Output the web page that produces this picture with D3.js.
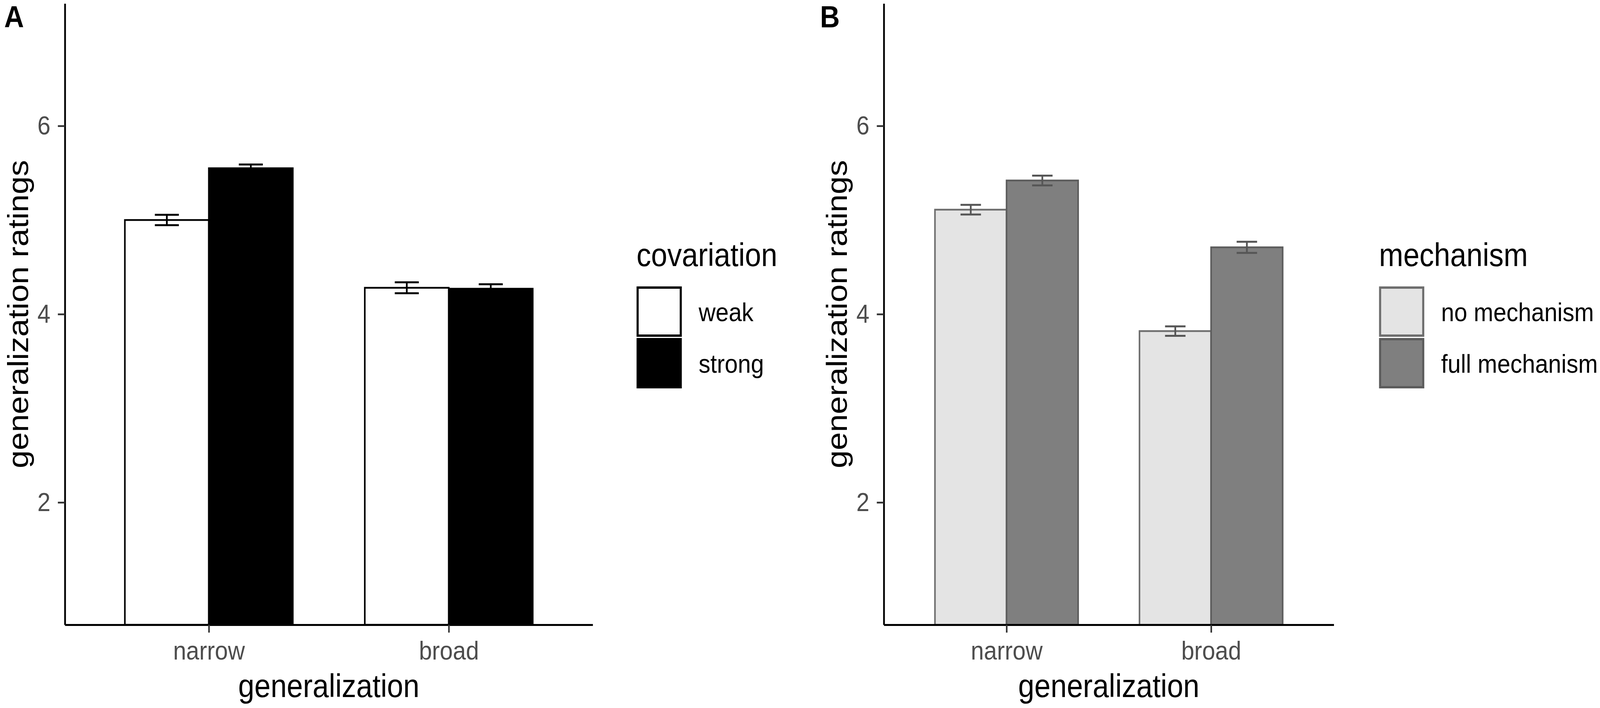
<!DOCTYPE html>
<html>
<head>
<meta charset="utf-8">
<script src="https://cdn.jsdelivr.net/npm/d3@7/dist/d3.min.js"></script>
<style>
    html, body { margin: 0; padding: 0; width: 100%; height: 100%; overflow: hidden; background: #fff; }
    .chart-svg { width: 100vw; height: 100vh; }
    .chart-svg svg { display: block; }
    text { font-family: "Liberation Sans", Arial, Helvetica, sans-serif; }
</style>
</head>
<body>
<div class="chart-svg"></div>
<script>
// categories and tick labels
var generalizationLevels = ['narrow', 'broad'];
var covariationLevels = ['weak', 'strong'];
var mechanismLevels = ['no mechanism', 'full mechanism'];
var yTicks = [2, 4, 6];

// panel A: covariation (means and standard errors, narrow / broad)
var weakMeans = [5.00, 4.28];
var weakErrors = [0.055, 0.058];
var strongMeans = [5.55, 4.27];
var strongErrors = [0.040, 0.048];

// panel B: mechanism
var noMechanismMeans = [5.11, 3.82];
var noMechanismErrors = [0.051, 0.050];
var fullMechanismMeans = [5.42, 4.71];
var fullMechanismErrors = [0.052, 0.059];

window.onload = function(){
    var svgWidth = 4562;
    var svgHeight = 1812;

    // drawn in a fixed 4562x1812 coordinate system, stretched to the window
    var svg = d3.select(".chart-svg")
            .append("svg")
            .attr("width", "100%")
            .attr("height", "100%")
            .attr("viewBox", "0 0 " + svgWidth + " " + svgHeight)
            .attr("preserveAspectRatio", "none");

    svg.append("rect")
        .attr("width", svgWidth)
        .attr("height", svgHeight)
        .attr("fill", "#fff");

    function buildRows(levels, meansList, errorsList){
        var rows = [];
        generalizationLevels.forEach(function(g, i){
            levels.forEach(function(level, j){
                rows.push({group: g, level: level, mean: meansList[j][i], se: errorsList[j][i]});
            });
        });
        return rows;
    };

    function drawPanel(opts){
        var panel = svg.append("g").attr("class", "panel");

        var yScale = d3.scaleLinear()
            .domain([0.7, 7.3])
            .range([opts.bottom, opts.top]);

        var xScale = d3.scalePoint()
            .domain(generalizationLevels)
            .range([opts.left, opts.right])
            .padding(0.6);

        var step = xScale.step();
        var dodge = d3.scaleBand()
            .domain(opts.levels)
            .range([-0.35 * step, 0.35 * step])
            .paddingInner(0);

        var fill = d3.scaleOrdinal().domain(opts.levels).range(opts.fills);
        var stroke = d3.scaleOrdinal().domain(opts.levels).range(opts.strokes);

        var rows = buildRows(opts.levels, opts.means, opts.errors);

        panel.selectAll("rect.bar")
            .data(rows)
            .enter()
            .append("rect")
            .attr("class", "bar")
            .attr("x", function(d){ return xScale(d.group) + dodge(d.level); })
            .attr("width", dodge.bandwidth())
            .attr("y", function(d){ return yScale(d.mean); })
            .attr("height", function(d){ return yScale(0.7) - yScale(d.mean); })
            .attr("fill", function(d){ return fill(d.level); })
            .attr("stroke", function(d){ return stroke(d.level); })
            .attr("stroke-width", 4.5);

        // error bars
        var capHalf = 0.05 * step;
        var err = panel.selectAll("g.err")
            .data(rows)
            .enter()
            .append("g")
            .attr("class", "err")
            .attr("stroke", opts.errorColor)
            .attr("stroke-width", 5)
            .attr("fill", "none");

        function cx(d){ return xScale(d.group) + dodge(d.level) + dodge.bandwidth() / 2; };

        err.append("line")
            .attr("x1", cx).attr("x2", cx)
            .attr("y1", function(d){ return yScale(d.mean + d.se); })
            .attr("y2", function(d){ return yScale(d.mean - d.se); });
        err.append("line")
            .attr("x1", function(d){ return cx(d) - capHalf; })
            .attr("x2", function(d){ return cx(d) + capHalf; })
            .attr("y1", function(d){ return yScale(d.mean + d.se); })
            .attr("y2", function(d){ return yScale(d.mean + d.se); });
        err.append("line")
            .attr("x1", function(d){ return cx(d) - capHalf; })
            .attr("x2", function(d){ return cx(d) + capHalf; })
            .attr("y1", function(d){ return yScale(d.mean - d.se); })
            .attr("y2", function(d){ return yScale(d.mean - d.se); });

        // axes
        var yAxis = d3.axisLeft(yScale).tickValues(yTicks).tickFormat(d3.format("d"))
            .tickSize(20).tickSizeOuter(0).tickPadding(21);
        var xAxis = d3.axisBottom(xScale).tickSize(20).tickSizeOuter(0).tickPadding(21);

        var gy = panel.append("g")
            .attr("transform", "translate(" + opts.left + ",0)")
            .call(yAxis)
            .attr("class", "axis");
        var gx = panel.append("g")
            .attr("transform", "translate(0," + opts.bottom + ")")
            .call(xAxis)
            .attr("class", "axis");

        [gx, gy].forEach(function(g){
            g.select(".domain").attr("stroke", "#000").attr("stroke-width", 5);
            g.selectAll(".tick line").attr("stroke", "#333").attr("stroke-width", 4.5);
            g.selectAll(".tick text")
                .attr("fill", "#4d4d4d")
                .style("font-size", "67px")
                .style("font-family", "'Liberation Sans', Arial, sans-serif");
        });

        // axis titles
        panel.append("text")
            .attr("x", (opts.left + opts.right) / 2)
            .attr("y", 1784)
            .attr("text-anchor", "middle")
            .style("font-size", "83px")
            .attr("fill", "#000")
            .text("generalization");

        panel.append("text")
            .attr("transform", "translate(" + (opts.left - 105) + "," + ((opts.top + opts.bottom) / 2) + ") rotate(-90)")
            .attr("text-anchor", "middle")
            .style("font-size", "83px")
            .attr("fill", "#000")
            .text("generalization ratings");

        // panel letter
        panel.append("text")
            .attr("x", opts.labelX)
            .attr("y", 70)
            .style("font-size", "78px")
            .style("font-weight", "bold")
            .attr("fill", "#000")
            .text(opts.label);

        // legend
        var legend = panel.append("g")
            .attr("transform", "translate(" + opts.legendX + ",0)");

        legend.append("text")
            .attr("x", 0)
            .attr("y", 681)
            .style("font-size", "83px")
            .attr("fill", "#000")
            .text(opts.legendTitle);

        var keys = legend.selectAll("g.key")
            .data(opts.levels)
            .enter()
            .append("g")
            .attr("class", "key")
            .attr("transform", function(d, i){ return "translate(0," + (733 + i * 132) + ")"; });

        keys.append("rect")
            .attr("x", 3).attr("y", 3)
            .attr("width", 123).attr("height", 123)
            .attr("fill", function(d){ return fill(d); })
            .attr("stroke", function(d){ return stroke(d); })
            .attr("stroke-width", 6);

        keys.append("text")
            .attr("x", 177)
            .attr("y", 89)
            .style("font-size", "67px")
            .attr("fill", "#000")
            .text(function(d){ return d; });
    };

    drawPanel({
        label: 'A', labelX: 12,
        left: 185, right: 1690, top: 9, bottom: 1599,
        levels: covariationLevels,
        means: [weakMeans, strongMeans],
        errors: [weakErrors, strongErrors],
        fills: ['#ffffff', '#000000'],
        strokes: ['#000000', '#000000'],
        errorColor: '#000000',
        legendTitle: 'covariation', legendX: 1815
    });

    drawPanel({
        label: 'B', labelX: 2338,
        left: 2520, right: 3803, top: 9, bottom: 1599,
        levels: mechanismLevels,
        means: [noMechanismMeans, fullMechanismMeans],
        errors: [noMechanismErrors, fullMechanismErrors],
        fills: ['#e4e4e4', '#7f7f7f'],
        strokes: ['#6e6e6e', '#5c5c5c'],
        errorColor: '#565656',
        legendTitle: 'mechanism', legendX: 3932
    });
}
</script>
</body>
</html>
